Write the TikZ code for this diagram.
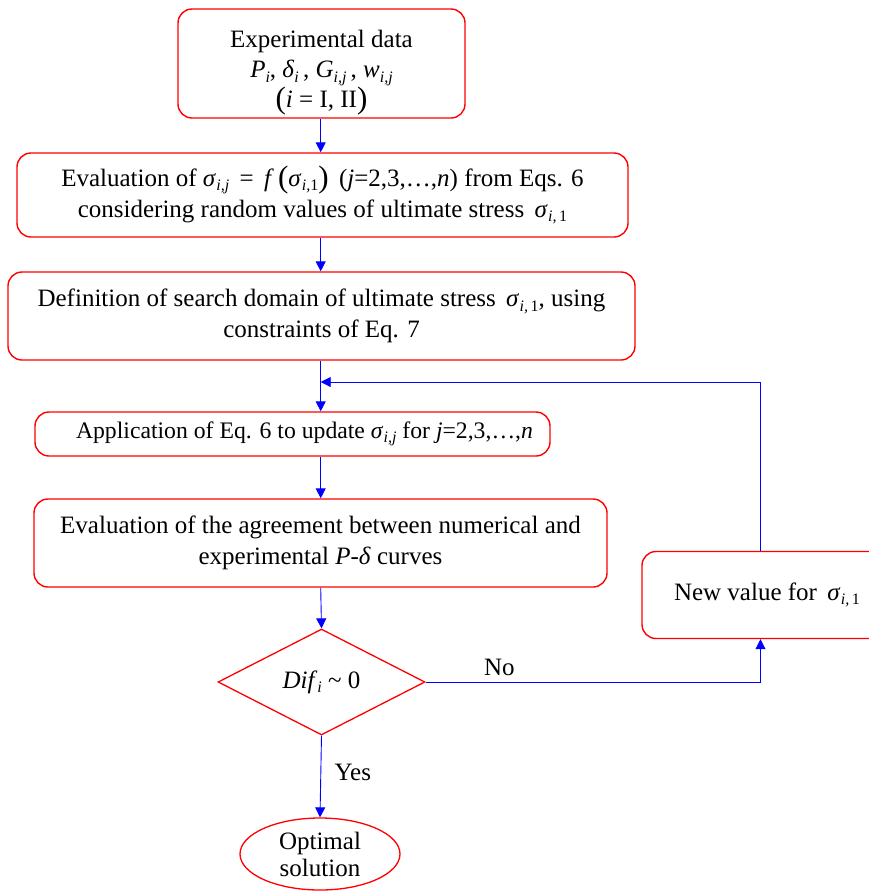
\documentclass[tikz,border=0pt]{standalone}
\usepackage{fontspec}
\setmainfont{Liberation Serif}
\usetikzlibrary{shapes.geometric,arrows.meta}
\newcommand\subsz{\fontsize{16}{16}\selectfont}
\newcommand\bigpar[1]{{\fontsize{31}{31}\selectfont\raisebox{-0.08ex}{#1}}}
\newcommand\sgsub[1]{\textit{σ}\kern0.3pt\raisebox{-0.4ex}{\subsz\textit{#1}}}
\newcommand\sgone{\textit{σ}\kern0.3pt\raisebox{-0.4ex}{\subsz\textit{i,}\,1}}
\newcommand\itsub[2]{\textit{#1}\raisebox{-0.4ex}{\subsz\textit{#2}}}
\tikzset{
  box/.style={draw=red, line width=1.4pt, rounded corners=14pt, align=center, inner sep=0pt,
    font=\fontsize{25}{31}\selectfont},
  txt/.style={align=center, inner sep=0pt, font=\fontsize{25}{30}\selectfont},
  dec/.style={draw=red, line width=1.3pt, diamond, aspect=2, inner sep=0pt,
    minimum width=207pt, minimum height=106pt, font=\fontsize{25}{29}\selectfont},
  term/.style={draw=red, line width=1.3pt, ellipse, inner sep=0pt, align=center,
    minimum width=160pt, minimum height=72pt, font=\fontsize{25}{27}\selectfont},
  conn/.style={draw=blue, line width=0.9pt, -{Triangle[length=10pt,width=10pt]}},
  lbl/.style={font=\fontsize{25}{27}\selectfont}
}
\begin{document}
\begin{tikzpicture}[x=1pt,y=-1pt]
\useasboundingbox (0,0) rectangle (869,892);
\node[box, minimum width=287pt, minimum height=109pt] (b1) at (321.5,63.5) {};
\node[txt] (b1t) at (321.5,73)
  {Experimental data\\ \itsub{P}{i}, \itsub{δ}{i}\,, \itsub{G}{i,j}\,, \itsub{w}{i,j}\\ \bigpar{(}\textit{i} = I, II\bigpar{)}};
\node[box, minimum width=611pt, minimum height=84pt] (b2) at (322.5,195)
  {Evaluation of \sgsub{i,j}\, = \,\textit{f}\,\bigpar{(}\sgsub{i,}\raisebox{-0.4ex}{\subsz 1}\bigpar{)}\, (\textit{j}=2,3,\dots,\textit{n}) from Eqs. 6\\ considering random values of ultimate stress \,\sgone};
\node[box, minimum width=627pt, minimum height=88pt] (b3) at (321.5,316)
  {Definition of search domain of ultimate stress \,\sgone, using\\ constraints of Eq. 7};
\node[box, minimum width=515pt, minimum height=44pt, font=\fontsize{23.7}{28}\selectfont] (b4) at (292.5,434)
  {\hspace*{24pt}Application of Eq. 6 to update \sgsub{i,j} for \textit{j}=2,3,\dots,\textit{n}};
\node[box, minimum width=573pt, minimum height=88pt] (b5) at (320.5,543)
  {Evaluation of the agreement between numerical and\\ experimental \textit{P}-\textit{δ} curves};
\node[dec] (d) at (321.5,682) {\itsub{Dif}{i} \textasciitilde\ 0};
\node[term] (t) at (320,854) {Optimal\\ solution};
\node[box, minimum width=250pt, minimum height=87pt] (nv) at (767,595)
  {New value for \,\sgone};
\coordinate (col) at (320.7,0);
\coordinate (loopx) at (760.5,0);
\coordinate (lp) at (320.7,382);
\draw[conn] (b1.south -| col) -- (b2.north -| col);
\draw[conn] (b2.south -| col) -- (b3.north -| col);
\draw[conn] (b3.south -| col) -- (b4.north -| col);
\draw[conn] (b4.south -| col) -- (b5.north -| col);
\draw[conn] (b5.south -| col) -- (d.north);
\draw[conn] (d.south) -- node[lbl, right=10pt, pos=0.45] {Yes} (t.north);
\draw[conn] (d.east) -- node[lbl, above=2pt, pos=0.22] {No} (d.east -| loopx) -- (nv.south -| loopx);
\draw[conn] (nv.north -| loopx) |- (lp);
\end{tikzpicture}
\end{document}
